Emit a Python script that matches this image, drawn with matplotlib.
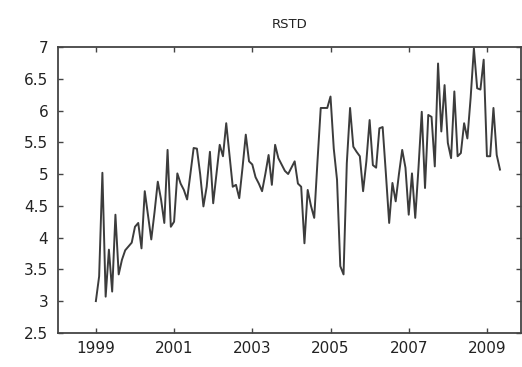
import numpy as np
import matplotlib
matplotlib.use("Agg")
import matplotlib.pyplot as plt

## monthly RSTD values, Jan 1999 onwards
start_year = 1999
rstd = [3.0, 3.39, 5.02, 3.07, 3.81, 3.15, 4.36, 3.42, 3.65, 3.8, 3.86, 3.92,
        4.17, 4.23, 3.83, 4.73, 4.35, 3.97, 4.4, 4.88, 4.6, 4.23, 5.38, 4.17,
        4.25, 5.01, 4.85, 4.75, 4.6, 5.0, 5.41, 5.40, 5.0, 4.49, 4.8, 5.35,
        4.54, 5.0, 5.46, 5.28, 5.8, 5.3, 4.8, 4.83, 4.62, 5.1, 5.62, 5.2,
        5.15, 4.95, 4.85, 4.73, 5.0, 5.3, 4.83, 5.46, 5.25, 5.15, 5.05, 5.0,
        5.1, 5.2, 4.85, 4.8, 3.91, 4.75, 4.5, 4.31, 5.2, 6.04, 6.04, 6.04,
        6.22, 5.4, 4.91, 3.55, 3.42, 5.17, 6.04, 5.43, 5.35, 5.28, 4.73, 5.2,
        5.85, 5.14, 5.1, 5.72, 5.74, 5.0, 4.23, 4.86, 4.57, 5.0, 5.38, 5.1,
        4.36, 5.01, 4.31, 5.1, 5.98, 4.78, 5.93, 5.9, 5.12, 6.74, 5.67, 6.4,
        5.49, 5.25, 6.3, 5.28, 5.33, 5.8, 5.56, 6.2, 6.98, 6.35, 6.33, 6.8,
        5.28, 5.28, 6.04, 5.3, 5.07]
year_ticks = [1999, 2001, 2003, 2005, 2007, 2009]
value_ticks = [2.5, 3, 3.5, 4, 4.5, 5, 5.5, 6, 6.5, 7]

t = start_year + np.arange(len(rstd)) / 12.0

fig = plt.figure(figsize=(5.22, 3.67), dpi=100)
ax = fig.add_axes([0.111, 0.093, 0.887, 0.779])

ax.plot(t, rstd, "-", color="#3c3c3c", linewidth=1.4)

ax.set_xlim(1998.03, 2009.87)
ax.set_ylim(2.5, 7)
ax.set_xticks(year_ticks)
ax.set_xticklabels([str(y) for y in year_ticks])
ax.set_yticks(value_ticks)
ax.set_yticklabels(["%g" % v for v in value_ticks])
ax.tick_params(direction="in", top=True, right=True, length=3.5,
               width=1, color="#444444", labelsize=11, labelcolor="#222222")
ax.tick_params(axis="y", pad=7)
ax.tick_params(axis="x", pad=6)
for s in ax.spines.values():
    s.set_color("#444444")
    s.set_linewidth(1.3)

ax.set_title("RSTD", fontsize=9.5, color="#222222", pad=14)

fig.savefig("out.png", dpi=100)
